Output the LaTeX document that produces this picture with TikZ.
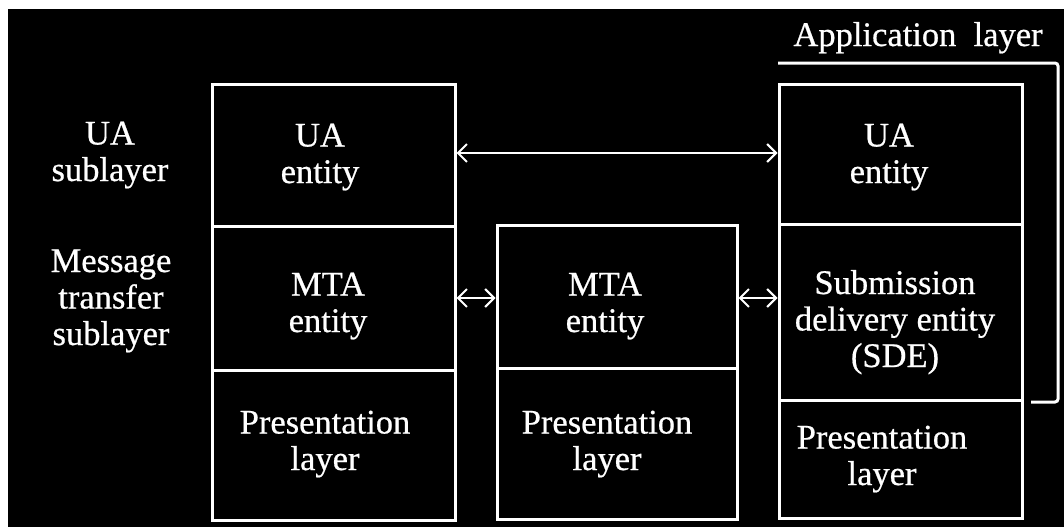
\documentclass[tikz,border=0pt]{standalone}
\usepackage{fontspec}
\setmainfont{Liberation Serif}[FakeBold=0.6]
\usetikzlibrary{arrows.meta}
\tikzset{
  layerbox/.style={draw=white, line width=3pt, inner sep=0pt, minimum width=#1},
  layerbox/.default=243pt,
  % anchor=base sits on the baseline of the last line
  lbl/.style={text=white, align=center, anchor=base, inner sep=0pt,
    font=\fontsize{34.5}{36.5}\selectfont},
  link/.style={draw=white, line width=2pt,
    {Straight Barb[length=9pt,width=18pt]}-{Straight Barb[length=9pt,width=18pt]}},
  brace/.style={draw=white, line width=3pt, rounded corners=3pt}
}
\begin{document}
\begin{tikzpicture}[x=1pt, y=-1pt]
  % page frame
  \fill[white] (0,0) rectangle (1064,527);
  \fill[black] (8,9) rectangle (1064,527);
  \useasboundingbox (0,0) rectangle (1064,527);

  % left end system
  \node[layerbox, minimum height=142pt] (lua)  at (333.5,155) {};
  \node[layerbox, minimum height=144pt] (lmta) at (333.5,298) {};
  \node[layerbox, minimum height=150pt] (lpre) at (333.5,445) {};

  % relay MTA
  \node[layerbox=240pt, minimum height=143pt] (mmta) at (617,296.5) {};
  \node[layerbox=240pt, minimum height=151pt] (mpre) at (617,443.5) {};

  % right end system
  \node[layerbox, minimum height=140pt] (rua)  at (900.5,154) {};
  \node[layerbox, minimum height=176pt] (rsde) at (900.5,312) {};
  \node[layerbox, minimum height=118pt] (rpre) at (900.5,459) {};

  % application layer bracket
  \coordinate (brA) at (778,63);
  \coordinate (brB) at (1058,63);
  \coordinate (brC) at (1058,402);
  \coordinate (brD) at (1031,402);
  \draw[brace] (brA) -- (brB) -- (brC) -- (brD);

  % peer relations
  \draw[link] (lua.east |- 0,153) -- (rua.west |- 0,153);
  \draw[link] (lmta.east |- 0,298) -- (mmta.west |- 0,298);
  \draw[link] (mmta.east |- 0,298) -- (rsde.west |- 0,298);

  % labels
  \node[lbl] (tapp) at (918,46) {Application\ \ layer};
  \node[lbl] (tuas) at (110,181) {UA\\sublayer};
  \node[lbl] (tmts) at (111,345) {Message\\transfer\\sublayer};

  \node[lbl] (tlua)  at (320,183) {UA\\entity};
  \node[lbl] (tlmta) at (328,332) {MTA\\entity};
  \node[lbl] (tlpre) at (325,470) {Presentation\\layer};

  \node[lbl] (tmmta) at (605,332) {MTA\\entity};
  \node[lbl] (tmpre) at (607,470) {Presentation\\layer};

  \node[lbl] (trua)  at (889,183) {UA\\entity};
  \node[lbl] (trsde) at (895,367) {Submission\\delivery entity\\(SDE)};
  \node[lbl] (trpre) at (882,485) {Presentation\\layer};
\end{tikzpicture}
\end{document}
